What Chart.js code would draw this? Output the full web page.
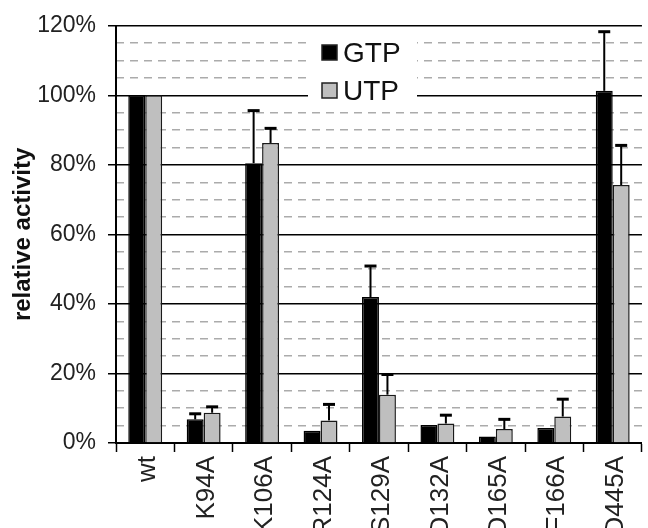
<!DOCTYPE html>
<html>
<head>
<meta charset="utf-8">
<script src="https://cdn.jsdelivr.net/npm/chart.js@4"></script>
<style>
  html, body { margin: 0; padding: 0; background: #fff; }
  #wrap { width: 648px; height: 528px; }
</style>
</head>
<body>
<div id="wrap"><canvas id="c" width="648" height="528"></canvas></div>
<script>
const categories = ['wt', 'K94A', 'K106A', 'R124A', 'S129A', 'D132A', 'D165A', 'F166A', 'D445A'];
const gtpValues = [100, 6.8, 80.5, 3.5, 42.0, 5.2, 1.9, 4.3, 101.3];
const utpValues = [100, 8.7, 86.3, 6.5, 13.9, 5.6, 4.0, 7.6, 74.2];
const gtpErrors = [0, 1.6, 15.1, 0, 8.9, 0, 0, 0, 17.0];
const utpErrors = [0, 1.7, 4.2, 4.6, 5.8, 2.4, 2.8, 5.0, 11.4];
const yTicksMajor = [0, 20, 40, 60, 80, 100, 120];

const FONT = "'Liberation Sans', Arial, sans-serif";

const errorBarPlugin = {
  id: 'errorBars',
  afterDatasetsDraw(chart) {
    const ctx = chart.ctx;
    const ys = chart.scales.y;
    [gtpErrors, utpErrors].forEach((errs, di) => {
      const meta = chart.getDatasetMeta(di);
      const vals = chart.data.datasets[di].data;
      meta.data.forEach((bar, i) => {
        const e = errs[i];
        if (!e) return;
        const x = bar.x;
        const y0 = ys.getPixelForValue(vals[i]);
        const y1 = ys.getPixelForValue(vals[i] + e);
        ctx.save();
        ctx.strokeStyle = '#000';
        ctx.lineWidth = 2;
        ctx.beginPath(); ctx.moveTo(x, y0); ctx.lineTo(x, y1); ctx.stroke();
        ctx.lineWidth = 3;
        ctx.beginPath(); ctx.moveTo(x - 6, y1); ctx.lineTo(x + 6, y1); ctx.stroke();
        ctx.restore();
      });
    });
  }
};

const legendPlugin = {
  id: 'innerLegend',
  beforeDatasetsDraw(chart) {
    const ctx = chart.ctx;
    ctx.save();
    ctx.fillStyle = '#fff';
    ctx.fillRect(308, 30, 109, 82);
    const rows = [53, 91];
    chart.data.datasets.forEach((ds, i) => {
      const cy = rows[i];
      ctx.fillStyle = ds.backgroundColor;
      ctx.fillRect(322, cy - 8, 15, 15);
      ctx.strokeStyle = '#222';
      ctx.lineWidth = 1.5;
      ctx.strokeRect(322, cy - 8, 15, 15);
      ctx.fillStyle = '#111';
      ctx.font = '28px ' + FONT;
      ctx.textBaseline = 'middle';
      ctx.textAlign = 'left';
      ctx.fillText(ds.label, 343, cy + 1);
    });
    ctx.restore();
  }
};

new Chart(document.getElementById('c'), {
  type: 'bar',
  data: {
    labels: categories,
    datasets: [
      { label: 'GTP', data: gtpValues, backgroundColor: '#000000', borderColor: '#000000', borderWidth: 1.5,
        categoryPercentage: 0.58, barPercentage: 1.0 },
      { label: 'UTP', data: utpValues, backgroundColor: '#bfbfbf', borderColor: '#1a1a1a', borderWidth: 1.5,
        categoryPercentage: 0.58, barPercentage: 1.0 }
    ]
  },
  options: {
    responsive: false,
    animation: false,
    devicePixelRatio: 1,
    layout: { padding: { top: 22.7, right: 1.5, bottom: 0, left: 0 } },
    plugins: { legend: { display: false }, tooltip: { enabled: false } },
    scales: {
      x: {
        offset: true,
        grid: { offset: true, drawOnChartArea: false, drawTicks: true, tickLength: 9, tickColor: '#000', tickWidth: 1.5 },
        border: { color: '#000', width: 2 },
        ticks: { autoSkip: false, minRotation: 90, maxRotation: 90, padding: 4, labelOffset: 3, color: '#222',
                 font: { family: FONT, size: 26 } },
        afterFit: (s) => { s.height = 85; }
      },
      y: {
        min: 0, max: 120,
        afterBuildTicks: (s) => { s.ticks = yTicksMajor.map(v => ({ value: v })); },
        grid: { color: '#000', lineWidth: 1.5, tickLength: 8, tickColor: '#000', tickWidth: 1.5 },
        border: { color: '#000', width: 2 },
        ticks: { padding: 12, color: '#222', font: { family: FONT, size: 23 }, callback: (v) => v + '%' },
        title: { display: true, text: 'relative activity', color: '#111',
                 font: { family: FONT, size: 24, weight: 'bold' }, padding: { top: 9, bottom: 0 } },
        afterFit: (s) => { s.width = 116; }
      },
      y2: {
        position: 'right',
        min: 0, max: 120,
        ticks: { stepSize: 5, display: false },
        grid: { drawTicks: false, lineWidth: 1.5,
                color: (c) => (c.tick && c.tick.value % 20 === 0) ? 'rgba(0,0,0,0)' : '#ababab' },
        border: { display: false, dash: [8, 6] },
        afterFit: (s) => { s.width = 0; }
      }
    }
  },
  plugins: [legendPlugin, errorBarPlugin]
});
</script>
</body>
</html>
